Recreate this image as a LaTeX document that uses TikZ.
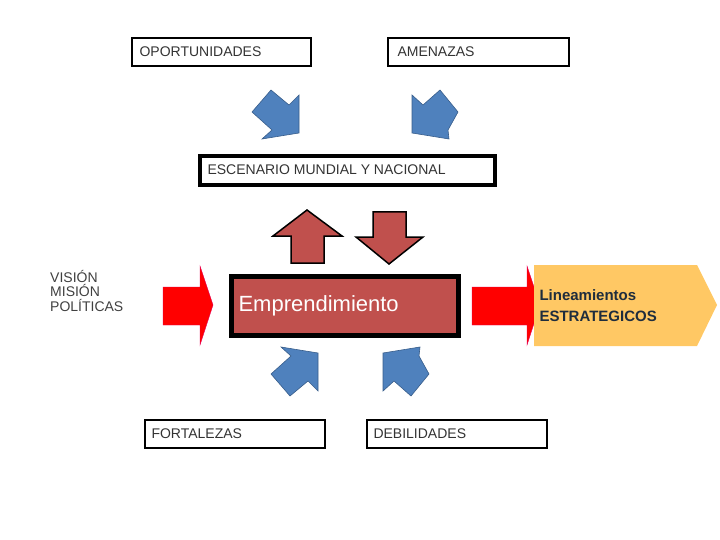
\documentclass[tikz,border=0pt]{standalone}
\usepackage{fontspec}
\setmainfont{Liberation Sans}
\definecolor{bfill}{RGB}{79,129,189}
\definecolor{bline}{RGB}{56,93,138}
\definecolor{brown1}{RGB}{192,80,77}
\definecolor{redl}{RGB}{230,0,90}
\definecolor{gold}{RGB}{255,200,100}
\definecolor{navy}{RGB}{31,45,61}
\begin{document}
\begin{tikzpicture}[x=1pt,y=-1pt,
  ltext/.style={anchor=west,font=\fontsize{14}{14}\selectfont,text=black!80},
  blu/.style={fill=bfill,draw=bline,line width=0.6pt},
  brn/.style={fill=brown1,draw=black,line width=1.5pt},
  redarr/.style={fill=red,draw=redl,line width=0.4pt}]
\useasboundingbox (0,0) rectangle (720,540);
% boxes
\draw[line width=2pt] (132,38) rectangle (311,66);
\node[ltext] (op) at (136,52) {OPORTUNIDADES};
\draw[line width=2pt] (388,38) rectangle (569,66);
\node[ltext] (am) at (394,52) {AMENAZAS};
\draw[line width=4pt] (200,156) rectangle (495,185);
\node[ltext] (esc) at (204,170) {ESCENARIO MUNDIAL Y NACIONAL};
\draw[line width=2pt] (145,420) rectangle (325,448);
\node[ltext] (fo) at (148,434) {FORTALEZAS};
\draw[line width=2pt] (367,420) rectangle (547,448);
\node[ltext] (de) at (370,434) {DEBILIDADES};
\draw[fill=brown1,draw=black,line width=5pt] (231,276) rectangle (458,335);
\node[anchor=west,text=white,font=\fontsize{22}{22}\selectfont] (emp) at (235,306) {Emprendimiento};
% VISION
\node[anchor=north west,align=left,inner sep=0pt,text=black!75,font=\fontsize{14}{14.5}\selectfont] (vis) at (50,270) {VISIÓN\\MISIÓN\\POLÍTICAS};
% red arrows
\draw[redarr] (163,287) -- (200,287) -- (200,266) -- (213,305) -- (200,345) -- (200,325) -- (163,325) -- cycle;
\draw[redarr] (472,287) -- (527,287) -- (527,266) -- (540,305) -- (527,345) -- (527,325) -- (472,325) -- cycle;
% Lineamientos
\fill[gold] (534,265) -- (697,265) -- (717,305) -- (697,346) -- (534,346) -- cycle;
\node[anchor=west,align=left,text=navy,font=\bfseries\fontsize{15}{21}\selectfont] (lin) at (536,306) {Lineamientos\\ESTRATEGICOS};
% brown arrows
\draw[brn] (291,263) -- (291,236) -- (273,236) -- (307,210) -- (342,236) -- (324,236) -- (324,263) -- cycle;
\draw[brn] (373,212) -- (406,212) -- (406,237) -- (423,237) -- (389,264) -- (356,237) -- (373,237) -- cycle;
% blue arrows
\def\tl{(252,112) -- (271,90) -- (289,105) -- (299,95) -- (299,133) -- (262,139) -- (272,130) -- cycle}
\def\tr{(412,95) -- (423,105) -- (440,90) -- (458,112) -- (448,130) -- (449,139) -- (412,133) -- cycle}
\draw[blu] \tl;
\draw[blu] \tr;
\begin{scope}[shift={(19,486)},yscale=-1]
\draw[blu] \tl;
\end{scope}
\begin{scope}[shift={(-29,486)},yscale=-1]
\draw[blu] \tr;
\end{scope}
\end{tikzpicture}
\end{document}
